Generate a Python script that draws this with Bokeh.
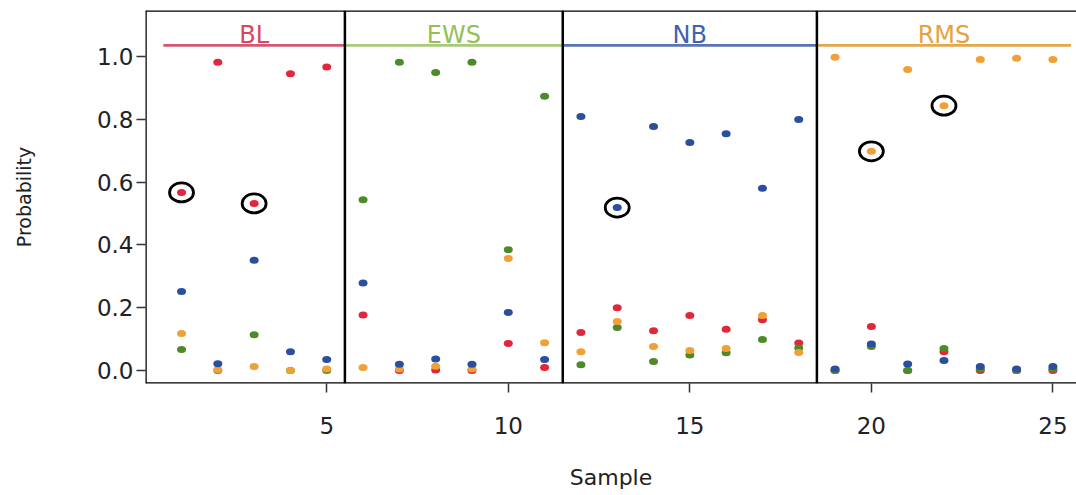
from bokeh.plotting import figure
from bokeh.models import Range1d, FixedTicker, Span, NumeralTickFormatter
from bokeh.core.properties import value
from bokeh.embed import file_html
from bokeh.resources import INLINE

# ---------------- data ----------------
samples = list(range(1, 26))
classes = ["BL", "EWS", "NB", "RMS"]
class_first = [1, 6, 12, 19]
class_last = [5, 11, 18, 25]

prob_BL = [0.567, 0.981, 0.532, 0.945, 0.966,
           0.177, 0.000, 0.002, 0.000, 0.086, 0.010,
           0.121, 0.200, 0.127, 0.175, 0.132, 0.162, 0.088,
           0.000, 0.140, 0.000, 0.060, 0.000, 0.000, 0.000]
prob_EWS = [0.067, 0.000, 0.114, 0.000, 0.000,
            0.544, 0.981, 0.949, 0.981, 0.385, 0.873,
            0.019, 0.137, 0.029, 0.050, 0.057, 0.099, 0.072,
            0.000, 0.077, 0.000, 0.070, 0.005, 0.000, 0.005]
prob_NB = [0.252, 0.022, 0.351, 0.060, 0.035,
           0.279, 0.020, 0.037, 0.020, 0.185, 0.035,
           0.809, 0.519, 0.777, 0.726, 0.754, 0.580, 0.799,
           0.005, 0.085, 0.021, 0.032, 0.013, 0.005, 0.013]
prob_RMS = [0.118, 0.003, 0.013, 0.000, 0.005,
            0.010, 0.005, 0.014, 0.005, 0.357, 0.089,
            0.060, 0.156, 0.077, 0.064, 0.070, 0.175, 0.058,
            0.997, 0.698, 0.958, 0.843, 0.990, 0.994, 0.990]

circled_samples = [1, 3, 13, 20, 22]
circled_class = ["BL", "BL", "NB", "RMS", "RMS"]

dot_colors = {"BL": "#e0283c", "EWS": "#4f8a2a", "NB": "#2a4f9e", "RMS": "#f0a035"}
head_colors = {"BL": "#d8475e", "EWS": "#94c055", "NB": "#3f63b0", "RMS": "#e6a23e"}
line_colors = {"BL": "#cf5a72", "EWS": "#a9c97c", "NB": "#5a74b4", "RMS": "#e2a84e"}

probs = {"BL": prob_BL, "EWS": prob_EWS, "NB": prob_NB, "RMS": prob_RMS}

# ---------------- figure ----------------
xr = Range1d(0.008, 25.65)
yr = Range1d(-0.041, 1.146)
p = figure(width=1076, height=494, x_range=xr, y_range=yr,
           output_backend="svg", toolbar_location=None,
           min_border_left=145, min_border_right=0,
           min_border_top=10, min_border_bottom=111)

p.xgrid.visible = False
p.ygrid.visible = False
p.outline_line_color = None
p.background_fill_color = "white"
p.border_fill_color = "white"

FONT = "DejaVu Sans"
TXT = "#222222"

# axes
p.xaxis.ticker = FixedTicker(ticks=[5, 10, 15, 20, 25])
p.xaxis.axis_line_color = None
p.xaxis.major_tick_out = 9
p.xaxis.major_tick_in = 0
p.xaxis.minor_tick_line_color = None
p.xaxis.major_tick_line_color = "#333333"
p.xaxis.major_tick_line_width = 1.5
p.xaxis.major_label_standoff = 24
p.xaxis.axis_label = "Sample"
p.xaxis.axis_label_standoff = 28

p.yaxis.ticker = FixedTicker(ticks=[0, 0.2, 0.4, 0.6, 0.8, 1.0])
p.yaxis.formatter = NumeralTickFormatter(format="0.0")
p.yaxis.axis_line_color = None
p.yaxis.major_tick_out = 9
p.yaxis.major_tick_in = 0
p.yaxis.minor_tick_line_color = None
p.yaxis.major_tick_line_color = "#333333"
p.yaxis.major_tick_line_width = 1.5
p.yaxis.major_label_standoff = 3
p.yaxis.axis_label = "Probability"
p.yaxis.axis_label_standoff = 59

for ax in (p.xaxis, p.yaxis):
    ax.major_label_text_font = FONT
    ax.major_label_text_font_size = "23px"
    ax.major_label_text_color = TXT
    ax.axis_label_text_font = FONT
    ax.axis_label_text_font_style = "normal"
    ax.axis_label_text_color = TXT
p.xaxis.axis_label_text_font_size = "22px"
p.yaxis.axis_label_text_font_size = "19px"

# frame borders (left, top, bottom; right edge runs off the page)
p.add_layout(Span(location=xr.start, dimension="height", line_color="black", line_width=2.5))
p.add_layout(Span(location=yr.start, dimension="width", line_color="black", line_width=2.5))
p.add_layout(Span(location=yr.end, dimension="width", line_color="black", line_width=2.5))

# panel separators
for c in class_last[:-1]:
    p.add_layout(Span(location=c + 0.5, dimension="height",
                      line_color="black", line_width=2.5))

# panel headers
centers = [(a + b) / 2 for a, b in zip(class_first, class_last)]
p.segment(x0=[a - 0.5 for a in class_first], x1=[b + 0.5 for b in class_last],
          y0=[1.035] * 4, y1=[1.035] * 4,
          line_color=[line_colors[c] for c in classes], line_width=2.7)
p.text(x=centers, y=[1.068] * 4, text=classes,
       text_color=[head_colors[c] for c in classes],
       text_align="center", text_baseline="middle",
       text_font=value(FONT), text_font_size="24px")

# highlight rings
ring_y = [probs[c][s - 1] for s, c in zip(circled_samples, circled_class)]
p.ellipse(x=circled_samples, y=ring_y, width=24, height=19,
          width_units="screen", height_units="screen",
          fill_color="white", line_color="black", line_width=2.8)

# dots (draw order)
for c in ["BL", "EWS", "RMS", "NB"]:
    p.ellipse(x=samples, y=probs[c], width=9, height=7,
              width_units="screen", height_units="screen",
              fill_color=dot_colors[c], line_color=None)

open("out.html", "w").write(file_html(p, INLINE))
